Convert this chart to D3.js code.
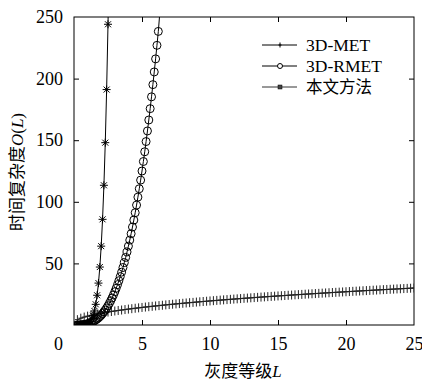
<!DOCTYPE html>
<html>
<head>
<meta charset="utf-8">
<script src="https://cdn.jsdelivr.net/npm/d3@7/dist/d3.min.js"></script>
<style>
html,body{margin:0;padding:0;background:#fff;}
svg{display:block;}
</style>
</head>
<body>
<svg id="chart" width="422" height="382"></svg>
<script>
// ---- data ----
const seriesNames = ["3D-MET", "3D-RMET", "本文方法"];
const xTicks = [0, 5, 10, 15, 20, 25];
const yTicks = [50, 100, 150, 200, 250];

const metL = d3.range(2, 27).map(i => i / 10);       // 0.2 .. 2.6
const metV = [0.0, 0.0, 0.004, 0.016, 0.047, 0.118, 0.262, 0.531, 1.0, 1.77, 2.99, 4.83,
  7.53, 11.39, 16.78, 24.14, 34.01, 47.05, 64.0, 85.77, 113.4, 148.0, 191.1, 244.1, 308.9];

const rmetL = d3.range(2, 64).map(i => i / 10);      // 0.2 .. 6.3
const rmetV = [0.008, 0.027, 0.064, 0.125, 0.216, 0.343, 0.512, 0.729, 1.0, 1.331, 1.728,
  2.197, 2.744, 3.375, 4.096, 4.913, 5.832, 6.859, 8.0, 9.261, 10.65, 12.17, 13.82, 15.63,
  17.58, 19.68, 21.95, 24.39, 27.0, 29.79, 32.77, 35.94, 39.3, 42.88, 46.66, 50.65, 54.87,
  59.32, 64.0, 68.92, 74.09, 79.51, 85.18, 91.13, 97.34, 103.8, 110.6, 117.6, 125.0, 132.7,
  140.6, 148.9, 157.5, 166.4, 175.6, 185.2, 195.1, 205.4, 216.0, 227.0, 238.3, 252.0];

const oursL = d3.range(1, 101).map(i => i / 4);      // 0.25 .. 25
const oursV = [4.35, 5.53, 6.44, 7.2, 7.87, 8.48, 9.04, 9.56, 10.05, 10.51, 10.95, 11.37,
  11.78, 12.16, 12.54, 12.9, 13.25, 13.59, 13.92, 14.25, 14.56, 14.87, 15.17, 15.46, 15.75,
  16.03, 16.31, 16.58, 16.85, 17.11, 17.37, 17.62, 17.87, 18.12, 18.36, 18.6, 18.84, 19.07,
  19.3, 19.53, 19.75, 19.97, 20.19, 20.4, 20.62, 20.83, 21.04, 21.24, 21.45, 21.65, 21.85,
  22.05, 22.25, 22.44, 22.64, 22.83, 23.02, 23.21, 23.39, 23.58, 23.76, 23.94, 24.12, 24.3,
  24.48, 24.65, 24.83, 25.0, 25.17, 25.35, 25.51, 25.68, 25.85, 26.02, 26.18, 26.35, 26.51,
  26.67, 26.83, 26.99, 27.15, 27.31, 27.46, 27.62, 27.78, 27.93, 28.08, 28.24, 28.39, 28.54,
  28.69, 28.84, 28.99, 29.13, 29.28, 29.42, 29.57, 29.71, 29.86, 30.0];

// ---- layout ----
const SERIF = "'Liberation Serif', 'Times New Roman', 'DejaVu Serif', serif";
const CJK = "'Noto Sans CJK SC', 'Noto Sans CJK JP', sans-serif";
const svg = d3.select("#chart");
const L = 74, R = 414, T = 17, B = 325;
const x = d3.scaleLinear().domain([0, 25]).range([L, R]);
const y = d3.scaleLinear().domain([0, 250]).range([B, T]);
const FS = 18;

svg.append("defs").append("clipPath").attr("id", "clip")
  .append("rect").attr("x", L).attr("y", T).attr("width", R - L).attr("height", B - T);

// axes (inward ticks, mirrored)
const tl = 5;
function styleAxis(g) {
  g.attr("font-family", SERIF).attr("font-size", FS);
  g.select(".domain").remove();
  g.selectAll("line").attr("stroke", "#000").attr("stroke-width", 1);
  g.selectAll("text").attr("font-family", SERIF).attr("font-size", FS).attr("fill", "#000");
}
const xb = svg.append("g").attr("transform", `translate(0,${B})`)
  .call(d3.axisBottom(x).tickValues(xTicks).tickSizeInner(-tl).tickSizeOuter(0).tickPadding(12).tickFormat(d3.format("d")));
styleAxis(xb);
xb.selectAll(".tick").filter(d => d === 0 || d === 25).select("line").remove();
xb.selectAll(".tick").filter(d => d === 0).select("text").attr("dx", -16);
const xt = svg.append("g").attr("transform", `translate(0,${T})`)
  .call(d3.axisTop(x).tickValues(xTicks.filter(d => d > 0 && d < 25)).tickSizeInner(-tl).tickSizeOuter(0).tickFormat(""));
styleAxis(xt);
const yl = svg.append("g").attr("transform", `translate(${L},0)`)
  .call(d3.axisLeft(y).tickValues(yTicks).tickSizeInner(-tl).tickSizeOuter(0).tickPadding(11).tickFormat(d3.format("d")));
styleAxis(yl);
yl.selectAll(".tick").filter(d => d === 250).select("line").remove();
const yr = svg.append("g").attr("transform", `translate(${R},0)`)
  .call(d3.axisRight(y).tickValues(yTicks.filter(d => d < 250)).tickSizeInner(-tl).tickSizeOuter(0).tickFormat(""));
styleAxis(yr);

// frame
svg.append("rect").attr("x", L).attr("y", T).attr("width", R - L).attr("height", B - T)
  .attr("fill", "none").attr("stroke", "#000").attr("stroke-width", 1);

// marks
const plot = svg.append("g").attr("clip-path", "url(#clip)");
const line = d3.line().x(d => x(d[0])).y(d => y(d[1]));
const star = "M0,-4V4M-4,0H4M-3,-3L3,3M-3,3L3,-3";
const plus = "M0,-4.5V4.5M-2.5,0H2.5";

const metData = d3.zip(metL, metV);
const rmetData = d3.zip(rmetL, rmetV);
const oursData = d3.zip(oursL, oursV);

plot.append("path").datum(oursData).attr("d", line).attr("fill", "none").attr("stroke", "#111").attr("stroke-width", 1);
plot.selectAll(".ours").data(oursData).enter().append("path")
  .attr("d", plus).attr("transform", d => `translate(${x(d[0])},${y(d[1])})`)
  .attr("stroke", "#222").attr("stroke-width", 1).attr("fill", "none");

plot.append("path").datum(rmetData).attr("d", line).attr("fill", "none").attr("stroke", "#000").attr("stroke-width", 1);
plot.selectAll(".rmet").data(rmetData.filter(d => d[1] < 249)).enter().append("circle")
  .attr("cx", d => x(d[0])).attr("cy", d => y(d[1])).attr("r", 4)
  .attr("fill", "none").attr("stroke", "#000").attr("stroke-width", 1);

plot.append("path").datum(metData).attr("d", line).attr("fill", "none").attr("stroke", "#000").attr("stroke-width", 1);
plot.selectAll(".met").data(metData.filter(d => d[1] < 249)).enter().append("path")
  .attr("d", star).attr("transform", d => `translate(${x(d[0])},${y(d[1])})`)
  .attr("stroke", "#000").attr("stroke-width", 1).attr("fill", "none");

// legend
const lg = svg.append("g");
const rows = [45, 66, 87];
seriesNames.forEach((name, i) => {
  const yy = rows[i];
  lg.append("line").attr("x1", 262).attr("x2", 297).attr("y1", yy).attr("y2", yy)
    .attr("stroke", i === 2 ? "#333" : "#000").attr("stroke-width", 1);
  if (i === 0) {
    lg.append("path").attr("d", "M0,-2.5V2.5M-1.5,0H1.5").attr("transform", `translate(280,${yy})`).attr("stroke", "#000");
  } else if (i === 1) {
    lg.append("circle").attr("cx", 280).attr("cy", yy).attr("r", 2.5).attr("fill", "#fff").attr("stroke", "#000");
  } else {
    lg.append("rect").attr("x", 278).attr("y", yy - 2).attr("width", 4).attr("height", 4).attr("fill", "#444").attr("stroke", "#000").attr("stroke-width", 0.5);
  }
  lg.append("text").attr("x", 306).attr("y", yy + 6)
    .attr("font-family", i === 2 ? CJK : SERIF).attr("font-size", i === 2 ? 16.5 : 17.5).text(name);
});

// axis titles
const xt2 = svg.append("text").attr("x", 243).attr("y", 377).attr("text-anchor", "middle").attr("font-size", 17).attr("font-family", SERIF);
xt2.append("tspan").attr("font-family", CJK).text("灰度等级");
xt2.append("tspan").attr("font-style", "italic").text("L");

const yt = svg.append("text").attr("transform", "translate(23,172) rotate(-90)").attr("text-anchor", "middle").attr("font-size", 17).attr("font-family", SERIF);
yt.append("tspan").attr("font-family", CJK).text("时间复杂度");
yt.append("tspan").attr("font-style", "italic").text("O");
yt.append("tspan").text("(");
yt.append("tspan").attr("font-style", "italic").text("L");
yt.append("tspan").text(")");
</script>
</body>
</html>
